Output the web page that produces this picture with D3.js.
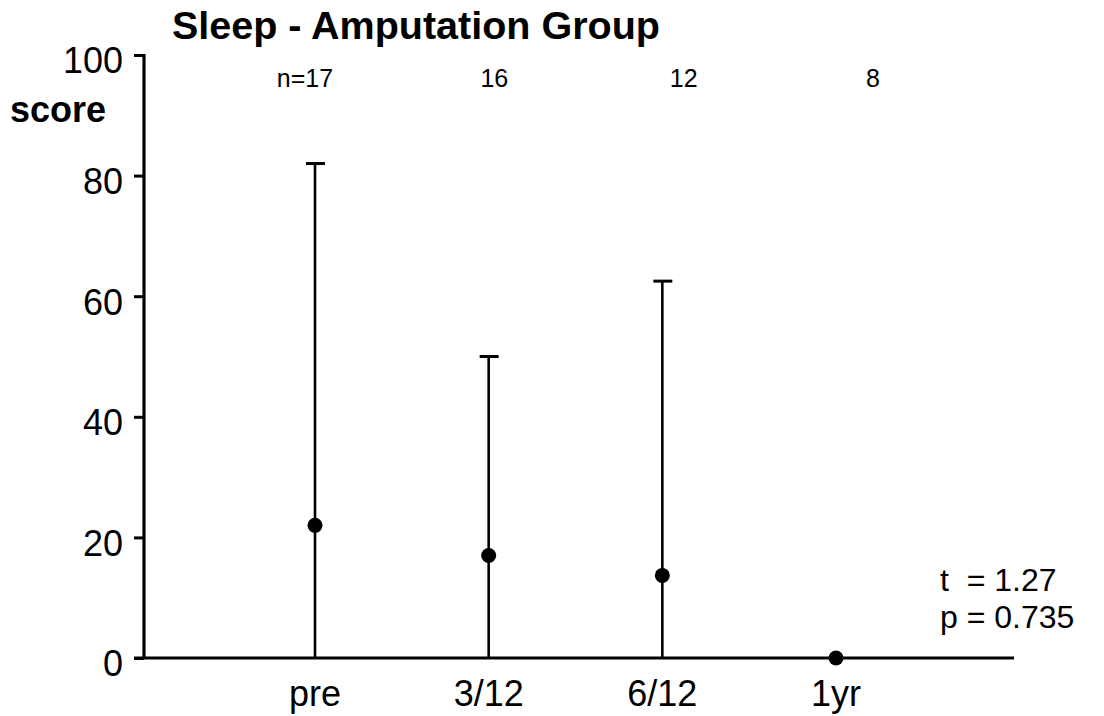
<!DOCTYPE html>
<html><head><meta charset="utf-8">
<script src="https://cdn.jsdelivr.net/npm/d3@7"></script>
<style>body{margin:0;background:#fff}svg{display:block;font-family:"Liberation Sans",Arial,sans-serif}</style>
</head><body>
<svg id="c" width="1104" height="716"></svg>
<script>
const categories = ["pre", "3/12", "6/12", "1yr"];
const means = [22, 17, 13.7, 0];
const upper = [82, 50, 62.5, 0];
const nLabels = ["n=17", "16", "12", "8"];
const yTicks = [0, 20, 40, 60, 80, 100];
const title = "Sleep - Amputation Group";
const stats = ["t  = 1.27", "p = 0.735"];

const svg = d3.select("#c");
const y = d3.scaleLinear().domain([0, 100]).range([658, 55]);
const x = d3.scalePoint().domain(categories).range([315, 836]);
const xn = d3.scalePoint().domain(nLabels).range([305, 873]);

// y axis
const yAxis = d3.axisLeft(y).tickValues(yTicks).tickSize(10).tickPadding(11).tickFormat(d3.format("d"));
const ga = svg.append("g").attr("transform", "translate(144,0)").call(yAxis);
ga.attr("font-size", 36).attr("font-family", null);
ga.select(".domain").attr("stroke-width", 3.2).attr("d", "M-10,55.5H0V658");
ga.selectAll(".tick line").attr("stroke-width", 3);
ga.selectAll(".tick text").attr("font-size", 36).attr("fill", "#000").attr("y", 5).attr("dy", "0.36em");

// baseline
svg.append("line").attr("x1", 134).attr("x2", 1014).attr("y1", y(0)).attr("y2", y(0))
  .attr("stroke", "#000").attr("stroke-width", 3.2);

// error bars
const data = categories.map((c, i) => ({c, m: means[i], u: upper[i]}));
svg.selectAll(".eb").data(data.filter(d => d.u > 0)).join("line")
  .attr("x1", d => x(d.c)).attr("x2", d => x(d.c))
  .attr("y1", y(0)).attr("y2", d => y(d.u))
  .attr("stroke", "#000").attr("stroke-width", 2.6);
svg.selectAll(".cap").data(data.filter(d => d.u > 0)).join("line")
  .attr("x1", d => x(d.c) - 9).attr("x2", d => x(d.c) + 10)
  .attr("y1", d => y(d.u)).attr("y2", d => y(d.u))
  .attr("stroke", "#000").attr("stroke-width", 3);
svg.selectAll(".pt").data(data).join("circle")
  .attr("cx", d => x(d.c)).attr("cy", d => y(d.m)).attr("r", 7.5).attr("fill", "#000");

// x labels
svg.selectAll(".xl").data(categories).join("text")
  .attr("x", d => x(d)).attr("y", 706).attr("text-anchor", "middle")
  .attr("font-size", 36).text(d => d);

// n labels
svg.selectAll(".nl").data(nLabels).join("text")
  .attr("x", d => xn(d)).attr("y", 87).attr("text-anchor", "middle")
  .attr("font-size", 25).text(d => d);

// title & axis title
svg.append("text").attr("x", 172).attr("y", 39).attr("font-size", 39.5).attr("font-weight", "bold").text(title);
svg.append("text").attr("x", 10).attr("y", 122).attr("font-size", 36).attr("font-weight", "bold").text("score");

// stats
svg.selectAll(".st").data(stats).join("text")
  .attr("x", 940).attr("y", (d, i) => 591 + i * 37).attr("font-size", 32)
  .style("white-space", "pre").text(d => d);
</script>
</body></html>
